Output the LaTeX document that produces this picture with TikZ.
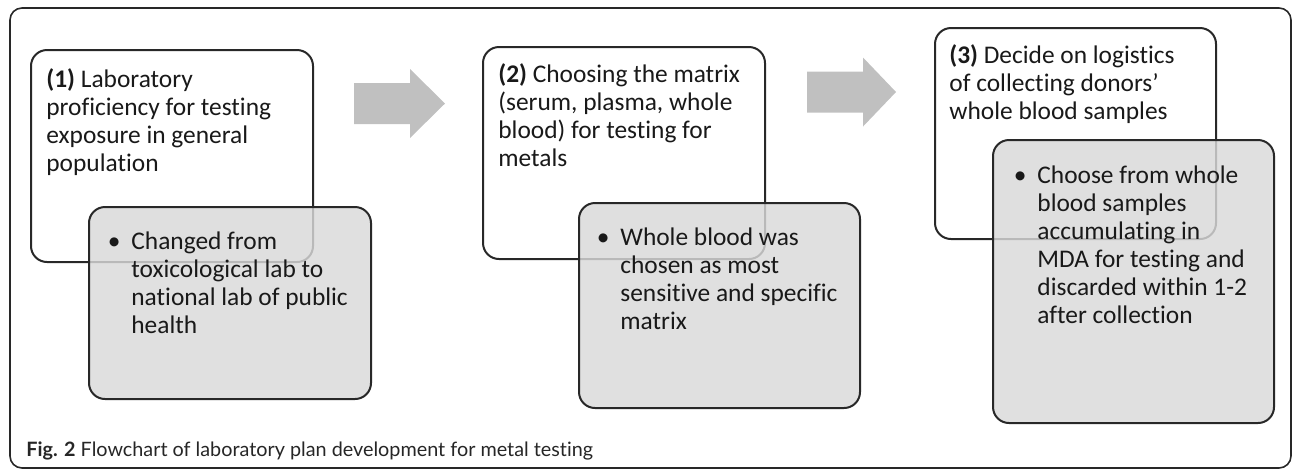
\documentclass[tikz,border=0pt]{standalone}
\usepackage{fontspec}
\setmainfont{Carlito}[Ligatures=NoCommon]
\newfontfamily\capfont{Lato}[Ligatures=NoCommon]
\definecolor{frgray}{RGB}{40,40,40}
\definecolor{notegray}{RGB}{217,217,217}
\definecolor{arrowgray}{RGB}{192,192,192}
\usetikzlibrary{positioning,calc}
\tikzset{
    stepcard/.style={
        draw=frgray, line width=1pt, rounded corners=8pt, fill=white,
        inner sep=0pt, anchor=north west
    },
    notecard/.style={
        draw=frgray, line width=1pt, rounded corners=8pt,
        fill=notegray, fill opacity=0.82, text opacity=1,
        inner sep=0pt, anchor=north west
    },
    cardtext/.style={
        align=left, inner sep=0pt, anchor=north west,
        font=\fontsize{12.7}{14}\selectfont, text=black!90
    }
}
\newcommand\bul{\llap{\textbullet\hspace{5.5pt}}}
% block arrow: #1 tail x, #2 head x, #3 tip x, #4 mid y
\newcommand\blockarrow[4]{%
  \fill[arrowgray] (#1,#4-20.5) -- (#2,#4-20.5) -- (#2,#4-34.5) -- (#3,#4)
    -- (#2,#4+34.5) -- (#2,#4+20.5) -- (#1,#4+20.5) -- cycle;}
\begin{document}
\begin{tikzpicture}[x=0.5pt,y=-0.5pt]
\useasboundingbox (0,0) rectangle (1293,468);
% outer frame
\draw[frgray, line width=0.8pt, rounded corners=6pt] (10,8) rectangle (1291,468);
% stage 1
\node[stepcard, minimum width=141pt, minimum height=106pt] (s1) at (30,49) {};
\node[notecard, minimum width=141pt, minimum height=96pt] (n1) at (88,206) {};
\node[cardtext] (t1) at ($(s1.north west)+(16,19)$)
  {\textbf{(1)} Laboratory\\proficiency for testing\\exposure in general\\population};
\node[cardtext] (u1) at ($(n1.north west)+(43,25)$)
  {\bul Changed from\\toxicological lab to\\national lab of public\\health};
% stage 2
\node[stepcard, minimum width=141pt, minimum height=106pt] (s2) at (482,46) {};
\node[notecard, minimum width=140.5pt, minimum height=102.5pt] (n2) at (578,202) {};
\node[cardtext] (t2) at ($(s2.north west)+(16,17)$)
  {\textbf{(2)} Choosing the matrix\\(serum, plasma, whole\\blood) for testing for\\metals};
\node[cardtext] (u2) at ($(n2.north west)+(42,25)$)
  {\bul Whole blood was\\chosen as most\\sensitive and specific\\matrix};
% stage 3
\node[stepcard, minimum width=140.5pt, minimum height=105.5pt] (s3) at (934,27) {};
\node[notecard, minimum width=140.5pt, minimum height=141.5pt] (n3) at (992,139) {};
\node[cardtext] (t3) at ($(s3.north west)+(15,17)$)
  {\textbf{(3)} Decide on logistics\\of collecting donors’\\whole blood samples};
\node[cardtext] (u3) at ($(n3.north west)+(45,26)$)
  {\bul Choose from whole\\blood samples\\accumulating in\\MDA for testing and\\discarded within 1-2\\after collection};
% arrows between stages
\blockarrow{354}{410}{445}{103.5}
\blockarrow{807}{863}{896}{92}
% caption
\node[anchor=base west, inner sep=0pt, text=black!85,
  font=\capfont\fontsize{9.9}{11}\selectfont]
  (cap) at (26,456) {\textbf{Fig. 2} Flowchart of laboratory plan development for metal testing};
\end{tikzpicture}
\end{document}
